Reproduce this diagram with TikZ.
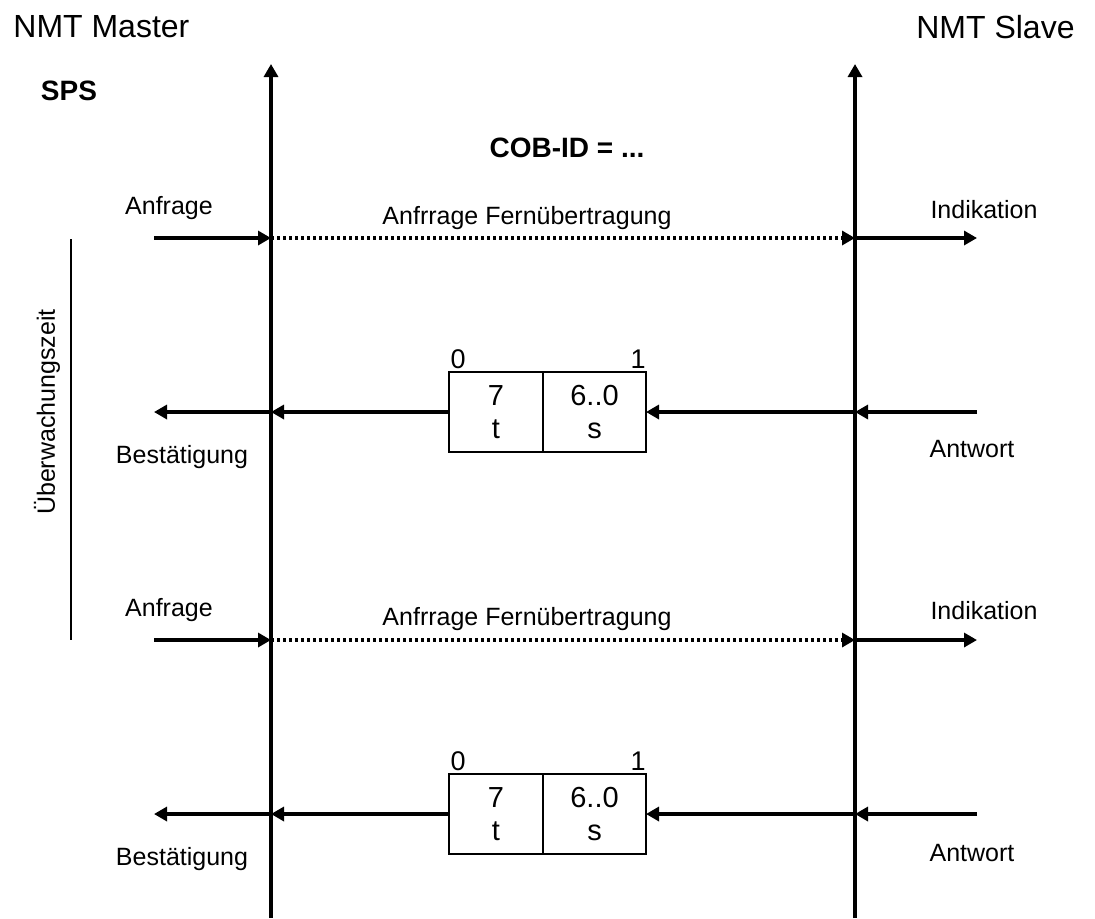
\documentclass[tikz,border=0pt]{standalone}
\usepackage{fontspec}
\setmainfont{Liberation Sans}
\usetikzlibrary{arrows.meta}
\tikzstyle{cell} = [rectangle, draw=black, line width=1pt, outer sep=0pt, inner sep=0pt, minimum height=40pt, align=center, font=\fontsize{14.5}{16.5}\selectfont]
\tikzstyle{lbl} = [inner sep=0pt, font=\fontsize{12.5}{14}\selectfont]
\tikzstyle{bit} = [inner sep=0pt, font=\fontsize{13.5}{15}\selectfont]
\tikzstyle{big} = [inner sep=0pt, font=\fontsize{16}{18}\selectfont]
\tikzstyle{head} = [inner sep=0pt, font=\fontsize{14}{16}\selectfont\bfseries]
\tikzstyle{msg} = [line width=1.6pt, -{Triangle[length=6.5pt,width=7pt]}]
\tikzstyle{remote} = [msg, dash pattern=on 1.5pt off 1.5pt]

\begin{document}
\begin{tikzpicture}[x=0.5pt, y=-0.5pt]

        \useasboundingbox (0,0) rectangle (1095,918);

        \node (master) [big, anchor=west] at (13,27) {NMT Master};
        \node (slave) [big, anchor=east] at (1075,27) {NMT Slave};
        \node (sps) [head] at (69,91) {SPS};
        \node (cobid) [head] at (567,148) {COB-ID = ...};

        \coordinate (mtop) at (271,64);
        \coordinate (mbot) at (271,918);
        \coordinate (stop) at (855,64);
        \coordinate (sbot) at (855,918);
        \draw [msg] (mbot) -- (mtop);
        \draw [msg] (sbot) -- (stop);

        \coordinate (wtop) at (71,239);
        \coordinate (wbot) at (71,640);
        \draw [line width=1pt] (wtop) -- (wbot);
        \node (watch) [lbl, rotate=90] at (47,412) {Überwachungszeit};

        % erste Anfrage
        \coordinate (req1) at (154,238);
        \coordinate (mreq1) at (271,238);
        \coordinate (sreq1) at (855,238);
        \coordinate (ind1) at (977,238);
        \draw [msg] (req1) -- (mreq1);
        \draw [remote] (mreq1) -- (sreq1);
        \draw [msg] (sreq1) -- (ind1);
        \node (anfrage1) [lbl] at (169,208) {Anfrage};
        \node (fern1) [lbl] at (527,218) {Anfrrage Fernübertragung};
        \node (indik1) [lbl] at (984,210) {Indikation};

        % erste Antwort
        \node (toggle1) [cell, anchor=north west, minimum width=47pt] at (449,372) {7\\t};
        \node (state1) [cell, anchor=north west, minimum width=51.5pt] at (toggle1.north east) {6..0\\s};
        \node (bitlo1) [bit] at (458,359) {0};
        \node (bithi1) [bit] at (638,359) {1};
        \coordinate (ans1) at (977,412);
        \coordinate (sans1) at (855,412);
        \coordinate (mans1) at (271,412);
        \coordinate (conf1) at (154,412);
        \draw [msg] (ans1) -- (sans1);
        \draw [msg] (sans1) -- (state1.east);
        \draw [msg] (toggle1.west) -- (mans1);
        \draw [msg] (mans1) -- (conf1);
        \node (best1) [lbl] at (182,457) {Bestätigung};
        \node (antw1) [lbl] at (972,449) {Antwort};

        % zweite Anfrage
        \coordinate (req2) at (154,640);
        \coordinate (mreq2) at (271,640);
        \coordinate (sreq2) at (855,640);
        \coordinate (ind2) at (977,640);
        \draw [msg] (req2) -- (mreq2);
        \draw [remote] (mreq2) -- (sreq2);
        \draw [msg] (sreq2) -- (ind2);
        \node (anfrage2) [lbl] at (169,610) {Anfrage};
        \node (fern2) [lbl] at (527,619) {Anfrrage Fernübertragung};
        \node (indik2) [lbl] at (984,611) {Indikation};

        % zweite Antwort
        \node (toggle2) [cell, anchor=north west, minimum width=47pt] at (449,774) {7\\t};
        \node (state2) [cell, anchor=north west, minimum width=51.5pt] at (toggle2.north east) {6..0\\s};
        \node (bitlo2) [bit] at (458,761) {0};
        \node (bithi2) [bit] at (638,761) {1};
        \coordinate (ans2) at (977,814);
        \coordinate (sans2) at (855,814);
        \coordinate (mans2) at (271,814);
        \coordinate (conf2) at (154,814);
        \draw [msg] (ans2) -- (sans2);
        \draw [msg] (sans2) -- (state2.east);
        \draw [msg] (toggle2.west) -- (mans2);
        \draw [msg] (mans2) -- (conf2);
        \node (best2) [lbl] at (182,859) {Bestätigung};
        \node (antw2) [lbl] at (972,853) {Antwort};

    \end{tikzpicture}
\end{document}
